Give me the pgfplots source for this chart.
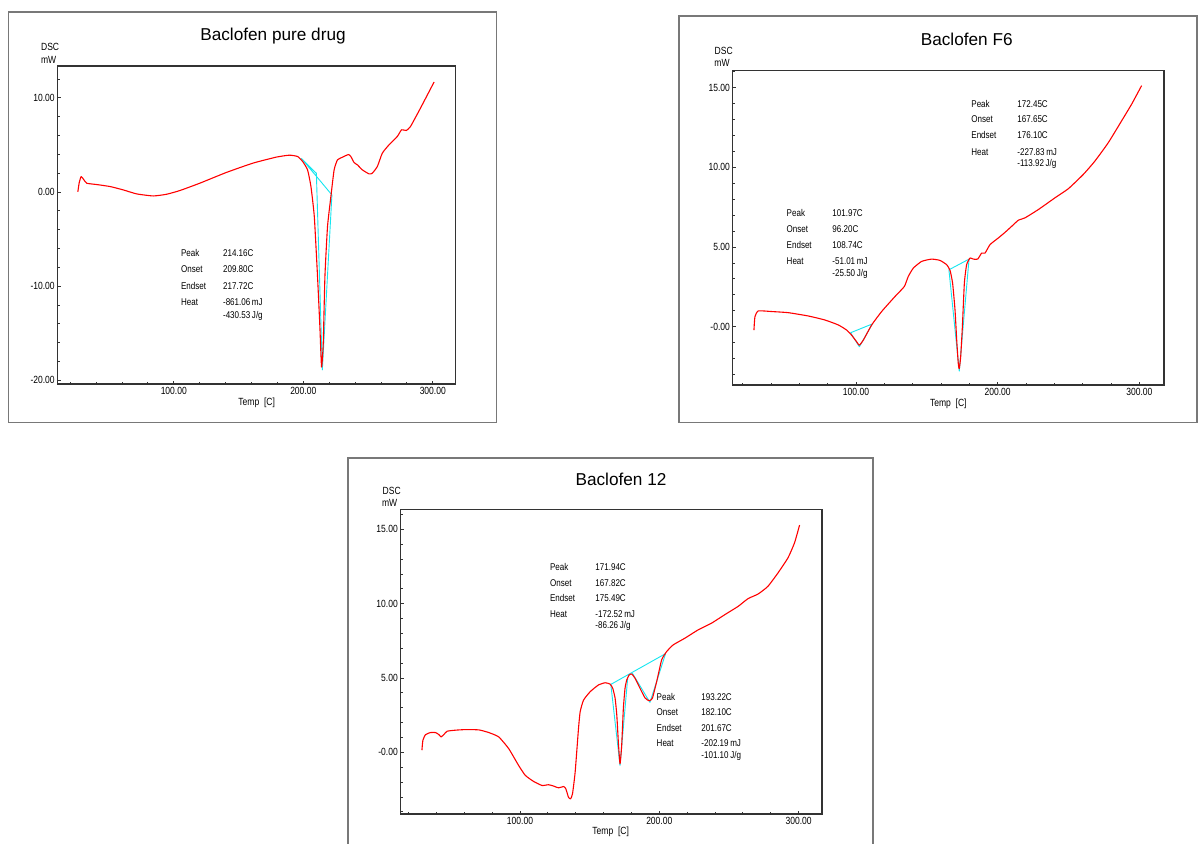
\documentclass[border=0pt]{standalone}
\usepackage{fontspec}
\setmainfont{Liberation Sans}
\newfontfamily\cond[FakeStretch=0.82]{Liberation Sans}
\usepackage{pgfplots}
\pgfplotsset{compat=1.18}
\definecolor{dscred}{RGB}{255,0,0}
\definecolor{dsccyan}{RGB}{20,230,240}
\definecolor{framegray}{RGB}{120,120,120}
\newcommand{\fa}{\cond\fontsize{4.9}{5.5}\selectfont}
\newcommand{\fl}{\cond\fontsize{5.2}{6}\selectfont}
\newcommand{\ft}{\fontsize{8.6}{10}\selectfont}
\pgfplotsset{
  dsc/.style={
    scale only axis, anchor=south west,
    axis line style={black!80, line width=0.55pt},
    tick style={black!80, line width=0.4pt},
    major tick length=1.6pt, minor tick length=1.2pt,
    tick align=inside,
    xtick pos=bottom, ytick pos=left,
    xtick={100,200,300}, xticklabels={100.00,200.00,300.00},
    minor xtick={20,40,...,300},
    tick label style={font=\fl, text=black},
    xticklabel style={inner sep=1.5pt},
    yticklabel style={inner sep=1.2pt},
    /pgf/number format/assume math mode=true,
    clip=false,
  },
  red curve/.style={dscred, line width=0.55pt, line join=round, no markers, smooth, tension=0.3},
  cyan curve/.style={dsccyan, line width=0.45pt, line join=round, no markers},
}
\begin{document}
\begin{tikzpicture}
\useasboundingbox (0,0) rectangle (600pt,421.5pt);
\fill[white] (0,0) rectangle (600pt,421.5pt);
% frames and texts in pixel coordinates
\begin{scope}[x=0.5pt,y=-0.5pt,shift={(0pt,421.5pt)}]
  \draw[framegray, line width=0.6pt] (8.3,12) rectangle (496.7,422.3);
  \draw[framegray, line width=0.6pt] (679,16) rectangle (1197,422.3);
  \draw[framegray, line width=0.6pt] (348,850) -- (348,458) -- (873,458) -- (873,850);
  % titles
  \node[font=\ft] at (273,36) {Baclofen pure drug};
  \node[font=\ft] at (966.7,39.3) {Baclofen F6};
  \node[font=\ft] at (621,479.3) {Baclofen 12};
  % DSC / mW
  \node[font=\fl, anchor=west, inner sep=0] at (40.7,46.7) {DSC};
  \node[font=\fl, anchor=west, inner sep=0] at (40.7,60) {mW};
  \node[font=\fl, anchor=west, inner sep=0] at (714.3,51.3) {DSC};
  \node[font=\fl, anchor=west, inner sep=0] at (714,63.3) {mW};
  \node[font=\fl, anchor=west, inner sep=0] at (382.3,491) {DSC};
  \node[font=\fl, anchor=west, inner sep=0] at (381.7,503.3) {mW};
  % axis titles
  \node[font=\fl] at (256.7,403.3) {Temp\ \ [C]};
  \node[font=\fl] at (948.3,404.3) {Temp\ \ [C]};
  \node[font=\fl] at (610.7,832.3) {Temp\ \ [C]};
  % annotations panel 1
  \begin{scope}[every node/.style={font=\fa, anchor=west, inner sep=0}]
  \node at (180.7,253.3) {Peak};   \node at (222.7,253.3) {214.16C};
  \node at (180.7,269.3) {Onset};  \node at (222.7,269.3) {209.80C};
  \node at (180.7,285.7) {Endset}; \node at (222.7,285.7) {217.72C};
  \node at (180.7,301.7) {Heat};   \node at (222.7,301.7) {-861.06\,mJ};
                                   \node at (222.7,315.7) {-430.53\,J/g};
  % panel 2 upper
  \node at (971,103.7) {Peak};   \node at (1017,103.7) {172.45C};
  \node at (971,118.7) {Onset};  \node at (1017,118.7) {167.65C};
  \node at (971,134.7) {Endset}; \node at (1017,134.7) {176.10C};
  \node at (971,151.7) {Heat};   \node at (1017,151.7) {-227.83\,mJ};
                                 \node at (1017,164.3) {-113.92\,J/g};
  % panel 2 lower
  \node at (786.3,212.7) {Peak};   \node at (832,212.7) {101.97C};
  \node at (786.3,228.7) {Onset};  \node at (832,228.7) {96.20C};
  \node at (786.3,244.7) {Endset}; \node at (832,244.7) {108.74C};
  \node at (786.3,260.7) {Heat};   \node at (832,260.7) {-51.01\,mJ};
                                   \node at (832,274) {-25.50\,J/g};
  % panel 3 upper
  \node at (549.7,566.7) {Peak};   \node at (595,566.7) {171.94C};
  \node at (549.7,582.7) {Onset};  \node at (595,582.7) {167.82C};
  \node at (549.7,597.7) {Endset}; \node at (595,597.7) {175.49C};
  \node at (549.7,613.7) {Heat};   \node at (595,613.7) {-172.52\,mJ};
                                   \node at (595,626) {-86.26\,J/g};
  % panel 3 lower
  \node at (656.3,696.7) {Peak};   \node at (701,696.7) {193.22C};
  \node at (656.3,711.7) {Onset};  \node at (701,711.7) {182.10C};
  \node at (656.3,727.7) {Endset}; \node at (701,727.7) {201.67C};
  \node at (656.3,742.7) {Heat};   \node at (701,742.7) {-202.19\,mJ};
                                   \node at (701,756) {-101.10\,J/g};
  \end{scope}
\end{scope}

% ---------------- Panel 1 ----------------
\begin{axis}[dsc, at={(28.75pt,229.5pt)}, width=198.85pt, height=159pt,
  xmin=10.2, xmax=317.3, ymin=-20.4, ymax=13.37,
  ytick={-20,-10,0,10}, yticklabels={-20.00,-10.00,0.00,10.00},
  minor ytick={-20,-18,...,12}]
\addplot[cyan curve] coordinates {(198.5,3.57) (210.1,1.98) (214.7,-18.9) (222.1,-0.32) (198.5,3.57)};
\addplot[red curve] coordinates {
(25.9,0.0) (27.0,1.0) (28.5,1.63) (30.5,1.3) (32.8,0.92) (40.5,0.78) (50.8,0.57)
(61,0.21) (71.3,-0.21) (84.1,-0.43) (94.4,-0.25) (104.6,0.14) (120,0.92)
(140.5,2.06) (161,3.05) (179,3.69) (189.2,3.9) (195.6,3.76) (199.5,3.23)
(203.3,2.34) (205.9,0.57) (208.5,-2.62) (211,-9.0) (212.8,-14.3) (214.1,-18.6)
(215.4,-16.1) (216.7,-9.0) (218.7,-3.69) (221.3,-0.5) (223.8,2.34) (226.4,3.4)
(230.3,3.69) (234.9,3.97) (236.7,3.76) (239.2,3.12) (241.8,2.87) (245.6,2.34)
(250.8,1.91) (253.3,1.99) (257.2,2.70) (261,4.11) (266.2,5.0) (272.6,5.89)
(275.9,6.6) (279.5,6.52) (282.8,6.95) (290.5,8.9) (301,11.67)};
\end{axis}

% ---------------- Panel 2 ----------------
\begin{axis}[dsc, at={(366.35pt,229pt)}, width=215.65pt, height=157.35pt,
  xmin=13.0, xmax=317.4, ymin=-3.66, ymax=16.09,
  ytick={0,5,10,15}, yticklabels={-0.00,5.00,10.00,15.00},
  minor ytick={-3,-2,...,16}]
\addplot[cyan curve] coordinates {(96.2,-0.38) (102.4,-1.26) (111.5,0.17) (96.2,-0.38)};
\addplot[cyan curve] coordinates {(165.6,3.57) (172.9,-2.79) (179.8,4.24) (165.6,3.57)};
\addplot[red curve] coordinates {
(28,-0.21) (28.7,0.63) (31.1,0.99) (40.5,0.95) (52.2,0.88) (66.4,0.67) (78.1,0.42)
(87.5,0.11) (93.4,-0.21) (96.9,-0.53) (100.5,-0.95) (102.4,-1.16) (105.2,-0.84)
(111.1,0.11) (118.1,0.95) (127.5,1.89) (134.1,2.52) (136.9,3.15) (140.5,3.68)
(146.4,4.10) (153.4,4.24) (159.3,4.16) (164,3.89) (166.4,3.53) (168.2,2.73)
(169.9,1.05) (171.1,-0.84) (172.2,-2.31) (172.9,-2.63) (173.9,-1.89) (175.1,0)
(176.5,2.73) (178.1,3.89) (180.5,4.31) (182.8,4.24) (185.9,4.24) (188.7,4.62)
(191.1,4.62) (194.6,5.15) (200.5,5.57) (205.2,5.92) (209.9,6.30) (214.6,6.68)
(219.3,6.83) (228.7,7.35) (240.5,8.09) (249.9,8.66) (260.5,9.56) (268.7,10.40)
(278.1,11.55) (287.5,12.92) (294.6,13.97) (301.6,15.13)};
\end{axis}

% ---------------- Panel 3 ----------------
\begin{axis}[dsc, at={(200.3pt,14.5pt)}, width=210.7pt, height=152.2pt,
  xmin=14.3, xmax=316.8, ymin=-4.15, ymax=16.33,
  ytick={0,5,10,15}, yticklabels={-0.00,5.00,10.00,15.00},
  minor ytick={-4,-3,...,16}]
\addplot[cyan curve] coordinates {(165.2,4.57) (204.5,6.64)};
\addplot[cyan curve] coordinates {(165.2,4.57) (171.8,-0.88) (177.3,4.98)};
\addplot[cyan curve] coordinates {(180.7,5.32) (193.3,3.36) (204.5,6.64)};
\addplot[red curve] coordinates {
(29.6,0.14) (30.3,0.81) (32.2,1.19) (35.8,1.33) (39.4,1.33) (41.8,1.19) (43.4,1.04)
(45.3,1.19) (47.7,1.42) (53.7,1.49) (60.9,1.53) (70.4,1.51) (77.6,1.33) (84.7,1.04)
(91.9,0.25) (99,-0.88) (103.8,-1.55) (109.8,-1.96) (115.8,-2.23) (120.5,-2.18)
(124.1,-2.27) (127.7,-2.39) (131.3,-2.30) (132.9,-2.45) (134.8,-3.02) (136.3,-3.13)
(137.7,-2.79) (139.6,-1.33) (142,1.6) (143.2,2.73) (145.6,3.51) (150.4,4.08)
(156.3,4.53) (161.1,4.68) (164.7,4.59) (166.6,4.30) (168.3,3.63) (169.5,2.5)
(170.6,0.7) (171.8,-0.77) (173,0.47) (174.2,2.95) (175.4,4.30) (176.6,4.86)
(178.3,5.2) (180.2,5.27) (182.6,4.98) (186.2,4.30) (189.7,3.67) (192.6,3.47)
(195,3.63) (198.1,4.75) (201.7,6.22) (205.3,6.78) (210,7.23) (218.4,7.68)
(227.9,8.24) (237.5,8.69) (247,9.26) (256.6,9.82) (263.7,10.34) (270.9,10.65)
(278.0,11.17) (285.2,12.07) (292.4,13.09) (297.1,14.10) (300.7,15.29)};
\end{axis}
\end{tikzpicture}
\end{document}
